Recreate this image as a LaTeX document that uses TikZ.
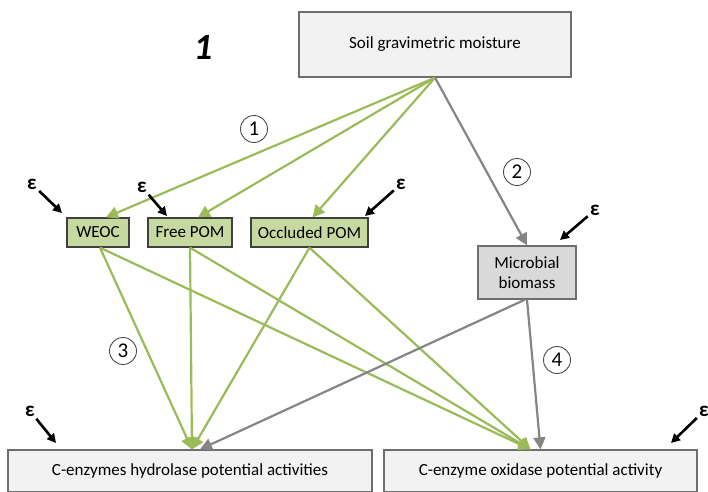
\documentclass[tikz,border=0pt]{standalone}
\usepackage{fontspec}
\setmainfont{Carlito}
\usetikzlibrary{arrows.meta,calc,positioning}
\definecolor{arrgreen}{HTML}{9BBB59}
\definecolor{arrgray}{HTML}{858585}
\definecolor{boxgreen}{HTML}{C6D9A0}
\definecolor{boxgray}{HTML}{D9D9D9}
\definecolor{boxlight}{HTML}{F2F2F2}
\definecolor{boxline}{HTML}{6E6E6E}
\tikzset{
	varbox/.style={draw=boxline, line width=1.3pt, fill=boxlight, inner sep=0pt, align=center, font=\fontsize{17}{20}\selectfont},
	poolbox/.style={varbox, fill=boxgreen, draw=black!75},
	greenarr/.style={draw=arrgreen, line width=2.2pt, -{Triangle[length=12pt,width=12pt]}},
	grayarr/.style={draw=arrgray, line width=2.2pt, -{Triangle[length=12pt,width=12pt]}},
	errarr/.style={black, line width=2.6pt, shorten <=3pt, -{Triangle[length=9pt,width=9pt]}},
	errlabel/.style={inner sep=0pt, font=\fontsize{21}{21}\selectfont\bfseries},
	pathnum/.style={circle, draw=black!70, line width=0.9pt, inner sep=0pt, minimum size=27pt, font=\fontsize{21}{21}\selectfont}
}
\begin{document}
\begin{tikzpicture}[x=1pt, y=-1pt]
			%%%%% START %%%%%
			\useasboundingbox (0, 0) rectangle (708, 491);
			
			\node[font=\fontsize{37}{37}\selectfont\bfseries\itshape] (panel) at (203, 47) {1};
			
			%% boxes
			\node[varbox, minimum width=272pt, minimum height=65pt] (moist) at (435, 44.5) {Soil gravimetric moisture};
			\node[poolbox, minimum width=62pt, minimum height=29pt] (weoc) at (98, 232.5) {WEOC};
			\node[poolbox, minimum width=84pt, minimum height=29pt] (fpom) at (190, 232.5) {Free POM};
			\node[poolbox, minimum width=117pt, minimum height=29pt] (opom) at (309.5, 232.5) {Occluded POM};
			\node[varbox, fill=boxgray, minimum width=98pt, minimum height=53pt] (mbio) at (527, 272.5) {Microbial\\biomass};
			\node[varbox, minimum width=364pt, minimum height=42pt] (hydro) at (190, 471) {C-enzymes hydrolase potential activities};
			\node[varbox, minimum width=313pt, minimum height=42pt] (oxid) at (540.5, 471) {C-enzyme oxidase potential activity};
			
			%% paths
			\draw[greenarr] (moist.south) -- ([xshift=8pt]weoc.north);
			\draw[greenarr] (moist.south) -- ([xshift=8pt]fpom.north);
			\draw[greenarr] (moist.south) -- ([xshift=3pt]opom.north);
			\draw[grayarr] (moist.south) -- (mbio.north);
			
			\draw[greenarr] ([xshift=2pt]weoc.south) -- ([xshift=-10pt]oxid.north);
			\draw[greenarr] (fpom.south) -- ([xshift=-10pt]oxid.north);
			\draw[greenarr] (opom.south) -- ([xshift=-10pt]oxid.north);
			\draw[grayarr] (mbio.south) -- (oxid.north);
			\draw[greenarr] ([xshift=2pt]weoc.south) -- ([xshift=2pt]hydro.north);
			\draw[greenarr] (fpom.south) -- ([xshift=2pt]hydro.north);
			\draw[greenarr] (opom.south) -- ([xshift=2pt]hydro.north);
			\draw[grayarr] ([xshift=-2pt]mbio.south) -- ([xshift=10pt]hydro.north);
			
			\node[pathnum] (p1) at (254, 129) {1};
			\node[pathnum] (p2) at (517, 172) {2};
			\node[pathnum] (p3) at (123, 351) {3};
			\node[pathnum] (p4) at (557, 360) {4};
			
			%% error terms
			\node[errlabel] (e1) at (32, 184) {ε};
			\node[errlabel] (e2) at (142, 187) {ε};
			\node[errlabel] (e3) at (401, 184) {ε};
			\node[errlabel] (e4) at (595, 210) {ε};
			\node[errlabel] (e5) at (30, 411) {ε};
			\node[errlabel] (e6) at (704, 411) {ε};
			\coordinate (e1end) at (62, 213);
			\coordinate (e2end) at (167, 216);
			\coordinate (e3end) at (365, 216);
			\coordinate (e4end) at (560, 240);
			\coordinate (e5end) at (56, 443);
			\coordinate (e6end) at (671, 443);
			\foreach \e in {e1, e2, e3, e4, e5, e6}
				\draw[errarr] (\e) -- (\e end);
			
			%%%%% END %%%%%
\end{tikzpicture}
\end{document}
